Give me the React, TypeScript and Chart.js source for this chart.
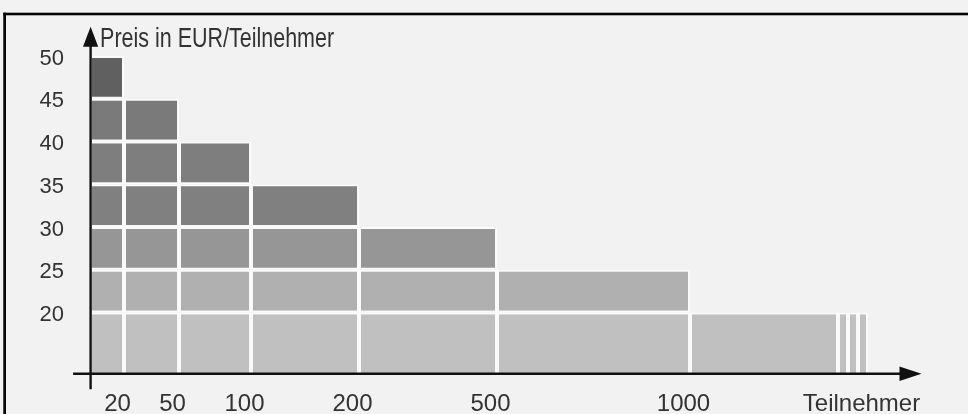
import React, { useEffect, useRef } from 'react';
import { Chart, registerables } from 'chart.js';

Chart.register(...registerables);

// ---- data ----
const tierLabels = ['20', '50', '100', '200', '500', '1000'];
const endLabel = 'Teilnehmer';
const priceTitle = 'Preis in EUR/Teilnehmer';
// highest price (EUR per participant) reached in each participant column
const tierTopPrice = [50, 45, 40, 35, 30, 25, 20, 20, 20, 20];
// width of each column on the drawing's participant axis (axis units)
const tierSpan = [34, 55, 72, 108, 138, 193, 148, 10, 10, 10];
const priceTicks = [20, 25, 30, 35, 40, 45, 50];
const baseValue = 12.85; // bottom of the price axis
const yTop = 54;
const xEnd = 840;

// ---- styles ----
const FONT = "'Liberation Sans', Arial, sans-serif";
const TEXT = '#333333';
const GAP = '#fafafa';
const BG = '#f2f2f2';
const rowColors: Record<number, string> = {
  20: '#c0c0c0',
  25: '#b0b0b0',
  30: '#969696',
  35: '#808080',
  40: '#7e7e7e',
  45: '#7a7a7a',
  50: '#606060',
};

const edges: number[] = [0];
tierSpan.forEach((s, i) => edges.push(edges[i] + s));

const xTickDefs = [
  ...tierLabels.map((label, i) => ({ value: edges[i + 1], label })),
  { value: edges[edges.length - 1], label: endLabel },
];

function buildDatasets() {
  return tierTopPrice.map((top, ci) => {
    const x0 = edges[ci];
    const x1 = edges[ci + 1];
    const cx = (x0 + x1) / 2;
    const cells: { x: number; y: [number, number] }[] = [];
    let lo = baseValue;
    for (const p of priceTicks) {
      if (p > top) break;
      cells.push({ x: cx, y: [lo, p] });
      lo = p;
    }
    return {
      type: 'bar' as const,
      data: cells,
      backgroundColor: cells.map((c) => rowColors[c.y[1]]),
      borderColor: GAP,
      borderWidth: 2,
      inflateAmount: 0,
      borderSkipped: (ctx: any) =>
        ctx.raw && ctx.raw.y && ctx.raw.y[0] === baseValue ? 'bottom' : false,
      barThickness: (ctx: any) => {
        const s = ctx.chart.scales.x;
        if (!s) return 10;
        return s.getPixelForValue(x1) - s.getPixelForValue(x0);
      },
    };
  });
}

const zeroPad = (s: any) => {
  s.paddingLeft = 0;
  s.paddingRight = 0;
  s.paddingTop = 0;
  s.paddingBottom = 0;
};

const decorPlugin = {
  id: 'decor',
  beforeDraw(chart: any) {
    const { ctx, width, height } = chart;
    ctx.save();
    ctx.fillStyle = BG;
    ctx.fillRect(0, 0, width, height);
    ctx.fillStyle = '#050505';
    ctx.fillRect(3.3, 12.7, 2.7, height);
    ctx.fillRect(3.3, 12.7, width, 2.6);
    ctx.restore();
  },
  afterDatasetsDraw(chart: any) {
    const { ctx } = chart;
    const xs = chart.scales.x;
    const ys = chart.scales.y;
    const ox = xs.getPixelForValue(0) + 0.6;
    const oy = ys.getPixelForValue(baseValue);
    ctx.save();
    ctx.strokeStyle = '#111111';
    ctx.fillStyle = '#111111';
    ctx.lineWidth = 2.4;
    // x axis
    const xTip = xs.right - 8.5;
    const xBase = xTip - 22;
    ctx.beginPath();
    ctx.moveTo(ox - 17.5, oy);
    ctx.lineTo(xBase + 1, oy);
    ctx.stroke();
    ctx.beginPath();
    ctx.moveTo(xTip, oy);
    ctx.lineTo(xBase, oy - 7.3);
    ctx.lineTo(xBase, oy + 7.3);
    ctx.closePath();
    ctx.fill();
    // y axis
    const yTip = ys.getPixelForValue(yTop) + 5;
    const yBase = yTip + 20;
    ctx.beginPath();
    ctx.moveTo(ox, oy + 15.5);
    ctx.lineTo(ox, yBase - 1);
    ctx.stroke();
    ctx.beginPath();
    ctx.moveTo(ox, yTip);
    ctx.lineTo(ox - 7.6, yBase);
    ctx.lineTo(ox + 7.6, yBase);
    ctx.closePath();
    ctx.fill();
    // axis title (narrow lettering)
    ctx.font = `27px ${FONT}`;
    ctx.fillStyle = TEXT;
    ctx.textAlign = 'left';
    ctx.textBaseline = 'alphabetic';
    ctx.fillText(priceTitle, ox + 9.5, yBase - 0.3, 234);
    ctx.restore();
  },
};

export default function App() {
  const ref = useRef<HTMLCanvasElement | null>(null);
  useEffect(() => {
    if (!ref.current) return;
    const chart = new Chart(ref.current, {
      type: 'bar',
      data: { datasets: buildDatasets() as any },
      options: {
        animation: false,
        responsive: true,
        maintainAspectRatio: false,
        layout: { padding: { top: 21.8, right: 38, bottom: 0, left: 0 } },
        plugins: {
          legend: { display: false },
          tooltip: { enabled: false },
          title: { display: false },
        },
        scales: {
          x: {
            type: 'linear',
            min: 0,
            max: xEnd,
            offset: false,
            stacked: true,
            grid: { display: false, drawTicks: false, offset: false },
            border: { display: false },
            afterBuildTicks: (s: any) => {
              s.ticks = xTickDefs.map((t) => ({ value: t.value }));
            },
            afterFit: (s: any) => {
              s.height = 40.3;
              zeroPad(s);
            },
            ticks: {
              autoSkip: false,
              maxRotation: 0,
              minRotation: 0,
              padding: 16,
              labelOffset: -6.5,
              color: TEXT,
              font: { family: FONT, size: 24 },
              callback: (v: any) => {
                const d = xTickDefs.find((t) => Math.abs(t.value - Number(v)) < 0.01);
                return d ? d.label : '';
              },
            },
          },
          y: {
            type: 'linear',
            min: baseValue,
            max: yTop,
            grid: { display: false, drawTicks: false },
            border: { display: false },
            afterBuildTicks: (s: any) => {
              s.ticks = priceTicks.map((v) => ({ value: v }));
            },
            afterFit: (s: any) => {
              s.width = 90;
              zeroPad(s);
            },
            ticks: {
              autoSkip: false,
              padding: 26,
              labelOffset: 2.5,
              color: TEXT,
              font: { family: FONT, size: 22 },
              callback: (v: any) => String(v),
            },
          },
        },
      } as any,
      plugins: [decorPlugin],
    });
    return () => chart.destroy();
  }, []);
  return (
    <div
      style={{
        position: 'fixed',
        left: 0,
        top: 0,
        width: 968,
        height: 414,
        background: BG,
      }}
    >
      <canvas ref={ref} />
    </div>
  );
}
